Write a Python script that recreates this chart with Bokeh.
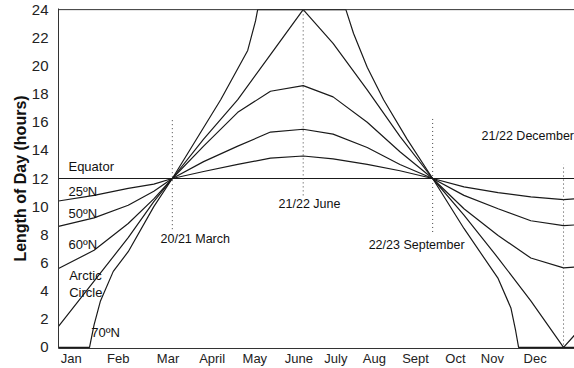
from bokeh.plotting import figure
from bokeh.models import Range1d, FixedTicker, Label, Span
from bokeh.embed import file_html
from bokeh.resources import INLINE

# ---- data (x = day of year, y = hours of daylight) ----
months = ["Jan", "Feb", "Mar", "April", "May", "June", "July", "Aug", "Sept", "Oct", "Nov", "Dec"]
month_pos = [9, 42, 77, 108, 138, 169, 195, 222, 251, 279, 305, 335]
y_ticks = [0, 2, 4, 6, 8, 10, 12, 14, 16, 18, 20, 22, 24]

days = [0, 25, 49, 67, 80, 102, 126, 149, 172, 193, 217, 240, 263, 285, 309, 332, 355, 363]
equator = [12] * len(days)
lat25 = [10.4, 10.8, 11.3, 11.6, 12.0, 12.5, 13.0, 13.45, 13.6, 13.4, 13.0, 12.55, 12.0, 11.4, 11.0, 10.7, 10.5, 10.55]
lat50 = [8.6, 9.2, 10.1, 11.1, 12.0, 13.2, 14.3, 15.3, 15.5, 15.15, 14.2, 13.0, 12.0, 10.8, 9.85, 9.0, 8.65, 8.7]
lat60 = [5.6, 6.9, 8.8, 10.55, 12.0, 14.3, 16.7, 18.2, 18.6, 17.8, 16.0, 13.9, 12.0, 9.85, 7.95, 6.35, 5.65, 5.7]
arctic = [1.5, 4.7, 7.8, 10.35, 12.0, 14.8, 17.6, 20.8, 24.0, 21.6, 18.3, 15.0, 12.0, 9.4, 6.35, 3.3, 0.0, 0.9]

days70 = [0, 21.8, 25, 29.5, 38.5, 49, 67, 80, 114, 133, 138.5, 140, 202, 207.4, 217, 228.5, 245, 263, 285, 309, 318, 321.3, 323.4, 363]
lat70 = [0, 0, 1.6, 3.3, 5.4, 6.8, 10.0, 12.0, 17.6, 21.1, 23.2, 24, 24, 22.3, 19.9, 17.6, 14.8, 12.0, 8.45, 4.9, 2.8, 1.2, 0, 0]

marker_days = [80, 172, 263, 355]
marker_top = [16.3, 24.0, 16.3, 13.0]
marker_bottom = [8.4, 10.8, 8.2, 0.2]

curve_labels = ["Equator", "25ºN", "50ºN", "60ºN", "Arctic", "Circle", "70ºN"]
curve_label_x = [7, 7, 7, 7, 7.5, 7.5, 23]
curve_label_y = [12.85, 11.05, 9.5, 7.3, 5.1, 3.9, 1.05]

date_labels = ["20/21 March", "21/22 June", "22/23 September", "21/22 December"]
date_label_x = [71.7, 154.7, 218, 297.4]
date_label_y = [7.7, 10.2, 7.25, 15.0]

FONT = "Liberation Sans"
INK = "#1a1a1a"

p = figure(width=574, height=368, output_backend="svg", toolbar_location=None,
           x_range=Range1d(0, 362.7), y_range=Range1d(-0.08, 24.08),
           min_border_left=58, min_border_right=0, min_border_top=8, min_border_bottom=17)
p.outline_line_color = None
p.grid.visible = False
p.background_fill_color = "white"

# curves
for ys in (equator, lat25, lat50, lat60, arctic):
    p.line(days, ys, line_color=INK, line_width=1.2)
p.line(days70, lat70, line_color=INK, line_width=1.2)

# dotted date markers
p.segment(x0=marker_days, y0=marker_bottom, x1=marker_days, y1=marker_top,
          line_color="#444444", line_width=1, line_dash="1 3")

# top border line
p.add_layout(Span(location=24, dimension="width", line_color="#333333", line_width=1))

# axes
p.yaxis.ticker = FixedTicker(ticks=y_ticks)
p.yaxis.axis_label = "Length of Day (hours)"
p.yaxis.axis_label_text_font = FONT
p.yaxis.axis_label_text_font_style = "bold"
p.yaxis.axis_label_text_font_size = "16px"
p.yaxis.axis_label_text_color = "#111111"
p.yaxis.axis_label_standoff = 0
p.yaxis.major_label_text_font = FONT
p.yaxis.major_label_text_font_size = "15px"
p.yaxis.major_label_text_color = "#222222"
p.yaxis.major_label_standoff = 10
p.yaxis.axis_line_color = "#333333"

p.xaxis.ticker = FixedTicker(ticks=month_pos)
p.xaxis.major_label_overrides = {pos: m for pos, m in zip(month_pos, months)}
p.xaxis.major_label_text_font = FONT
p.xaxis.major_label_text_font_size = "13px"
p.xaxis.major_label_text_color = "#222222"
p.xaxis.major_label_standoff = 2
p.xaxis.axis_line_color = "#333333"

for ax in (p.xaxis, p.yaxis):
    ax.major_tick_out = 0
    ax.major_tick_in = 0
    ax.minor_tick_out = 0
    ax.minor_tick_in = 0

# text labels
for t, x, y in zip(curve_labels, curve_label_x, curve_label_y):
    p.add_layout(Label(x=x, y=y, text=t, text_font=FONT, text_font_size="13px",
                       text_color="#111111", text_baseline="middle", text_align="left"))
for t, x, y in zip(date_labels, date_label_x, date_label_y):
    p.add_layout(Label(x=x, y=y, text=t, text_font=FONT, text_font_size="12.5px",
                       text_color="#111111", text_baseline="middle", text_align="left"))

open("out.html", "w").write(file_html(p, INLINE))
